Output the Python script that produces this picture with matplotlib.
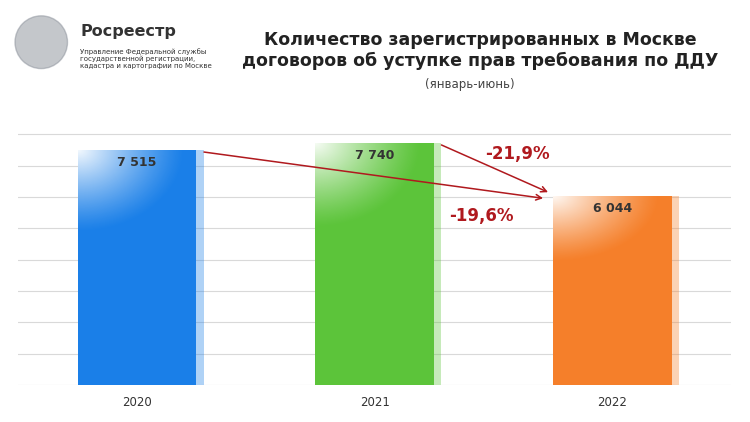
import numpy as np
import matplotlib.pyplot as plt
from matplotlib.patches import Ellipse

years = ['2020', '2021', '2022']
values = [7515, 7740, 6044]
labels = ['7 515', '7 740', '6 044']
colors = ['#1a7fe8', '#5cc43a', '#f57f2a']
changes = ['-19,6%', '-21,9%']

plt.rcParams['font.family'] = 'DejaVu Sans'
fig = plt.figure(figsize=(7.5, 4.22), dpi=100)
ax = fig.add_axes([0.024, 0.0877, 0.95, 0.616])
ymax = 8300
ax.set_xlim(-0.501, 2.497)
ax.set_ylim(0, ymax)
for s in ax.spines.values():
    s.set_visible(False)
ax.set_yticks(np.arange(0, 8001, 1000))
ax.set_yticklabels([])
ax.tick_params(length=0)
ax.grid(axis='y', color='#d9d9d9', lw=0.8)
ax.set_axisbelow(True)
ax.set_xticks(range(3))
ax.set_xticklabels(years, fontsize=8.5, color='#333333')
ax.tick_params(axis='x', pad=8)

w = 0.5
for i, (v, c) in enumerate(zip(values, colors)):
    # light shadow strip on the right
    ax.bar(i + 0.03, v, width=w, color=c, alpha=0.35, zorder=2)
    ax.bar(i, v, width=w, color=c, zorder=3)
    # white highlight gradient from top-left
    gx, gy = np.meshgrid(np.linspace(0, 1, 60), np.linspace(1, 0, 120))
    a = np.clip(1 - np.sqrt((gx / 0.9) ** 2 + ((1 - gy) / 0.35) ** 2), 0, 1) ** 1.2
    img = np.ones((120, 60, 4))
    img[..., 3] = a * 0.95
    ax.imshow(img, extent=(i - w / 2, i + w / 2, 0, v), aspect='auto', zorder=4,
              interpolation='bilinear')
    ax.text(i, v - 420, labels[i], ha='center', va='center', fontsize=9,
            fontweight='bold', color='#333333', zorder=5)
ax.set_xlim(-0.501, 2.497)
ax.set_ylim(0, ymax)

red = '#b0191e'
ax.annotate('', xy=(1.72, 5950), xytext=(0.27, 7450),
            arrowprops=dict(arrowstyle='->', color=red, lw=1.1), zorder=6)
ax.annotate('', xy=(1.74, 6120), xytext=(1.27, 7700),
            arrowprops=dict(arrowstyle='->', color=red, lw=1.1), zorder=6)
ax.text(1.45, 5250, changes[0], color=red, fontsize=12, fontweight='bold', ha='center')
ax.text(1.6, 7200, changes[1], color=red, fontsize=12, fontweight='bold', ha='center')

fig.text(0.107, 0.925, 'Росреестр', fontsize=11.5, fontweight='bold', color='#333333', va='center')
fig.text(0.107, 0.885, 'Управление Федеральной службы\nгосударственной регистрации,\nкадастра и картографии по Москве',
         fontsize=5, color='#333333', va='top', linespacing=1.1)
fig.patches.append(Ellipse((0.055, 0.9), 0.07, 0.125, transform=fig.transFigure,
                           color='#8a9099', alpha=0.5, figure=fig))
fig.text(0.64, 0.88, 'Количество зарегистрированных в Москве\nдоговоров об уступке прав требования по ДДУ',
         ha='center', va='center', fontsize=12.5, fontweight='bold', color='#222222', linespacing=1.25)
fig.text(0.627, 0.8, '(январь-июнь)', ha='center', va='center', fontsize=8.5, color='#444444')

fig.savefig('out.png', dpi=100, facecolor='white')
